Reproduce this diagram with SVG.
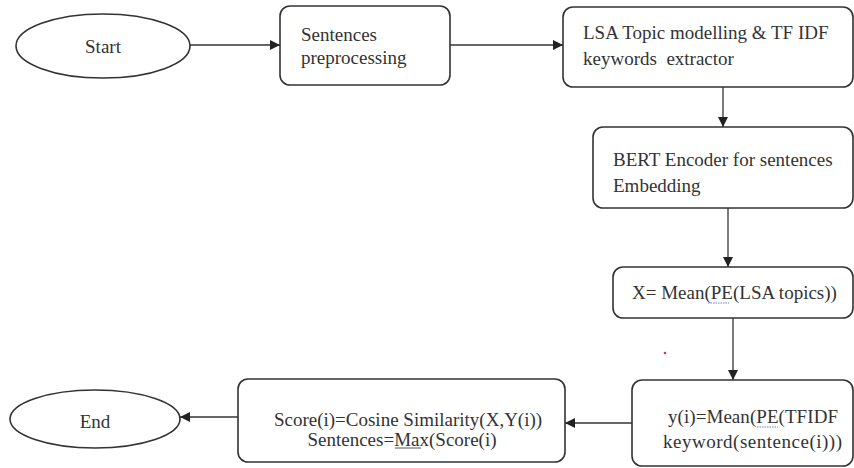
<svg xmlns="http://www.w3.org/2000/svg" width="854" height="468" viewBox="0 0 854 468">
  <defs>
    <marker id="arrow" viewBox="0 0 10 10" refX="10" refY="5" markerWidth="10" markerHeight="10" markerUnits="userSpaceOnUse" orient="auto">
      <path d="M0,0 L10,5 L0,10 z" fill="#222"/>
    </marker>
    <style>
      .shape { fill: #fff; stroke: #333; stroke-width: 1.6; }
      .edge { fill: none; stroke: #333; stroke-width: 1.3; marker-end: url(#arrow); }
      .t { font-family: 'Liberation Serif', 'DejaVu Serif', serif; font-size: 19px; fill: #333; }
      .c { text-anchor: middle; }
      .ul { stroke: #555; stroke-width: 1; }
      .spell { stroke: #6a7fc0; stroke-width: 1; stroke-dasharray: 1.5 1; }
    </style>
  </defs>
  <rect width="854" height="468" fill="#fff"/>

  <g id="start">
    <ellipse class="shape" cx="103" cy="46" rx="87" ry="32"/>
    <text class="t c" x="103" y="53">Start</text>
  </g>

  <g id="preprocess">
    <rect class="shape" x="280" y="6" width="170" height="79" rx="10"/>
    <text class="t" x="301" y="41">Sentences</text>
    <text class="t" x="301" y="64">preprocessing</text>
  </g>

  <g id="extractor">
    <rect class="shape" x="563" y="7" width="290" height="80" rx="10"/>
    <text class="t" x="583" y="39">LSA Topic modelling &amp; TF IDF</text>
    <text class="t" x="583" y="65" xml:space="preserve">keywords  extractor</text>
  </g>

  <g id="encoder">
    <rect class="shape" x="593" y="127" width="260" height="81" rx="10"/>
    <text class="t" x="613" y="166">BERT Encoder for sentences</text>
    <text class="t" x="613" y="192">Embedding</text>
  </g>

  <g id="topics-mean">
    <rect class="shape" x="613" y="267" width="240" height="51" rx="10"/>
    <text class="t" x="632" y="299">X= Mean(PE(LSA topics))</text>
    <line class="spell" x1="708" y1="303" x2="729" y2="303"/>
  </g>

  <g id="keywords-mean">
    <rect class="shape" x="632" y="380" width="221" height="86" rx="10"/>
    <text class="t" x="668" y="423" textLength="170" lengthAdjust="spacing">y(i)=Mean(PE(TFIDF</text>
    <text class="t" x="663" y="448" textLength="179" lengthAdjust="spacing">keyword(sentence(i)))</text>
    <line class="spell" x1="757" y1="427" x2="778" y2="427"/>
  </g>

  <g id="score">
    <rect class="shape" x="238" y="379" width="327" height="83" rx="10"/>
    <text class="t c" x="408" y="426">Score(i)=Cosine Similarity(X,Y(i))</text>
    <text class="t c" x="402" y="446">Sentences=Max(Score(i)</text>
    <line class="ul" x1="395" y1="448" x2="421" y2="448"/>
  </g>

  <g id="end">
    <ellipse class="shape" cx="95" cy="419" rx="85" ry="29"/>
    <text class="t c" x="95" y="428">End</text>
  </g>

  <circle cx="665" cy="353" r="1.3" fill="#d0335a"/>

  <g id="connectors">
    <line class="edge" x1="190" y1="45" x2="280" y2="45"/>
    <line class="edge" x1="450" y1="45" x2="563" y2="45"/>
    <line class="edge" x1="723" y1="87" x2="723" y2="127"/>
    <line class="edge" x1="728" y1="208" x2="728" y2="267"/>
    <line class="edge" x1="733" y1="318" x2="733" y2="380"/>
    <line class="edge" x1="632" y1="423" x2="565" y2="423"/>
    <line class="edge" x1="238" y1="417" x2="180" y2="417"/>
  </g>
</svg>
